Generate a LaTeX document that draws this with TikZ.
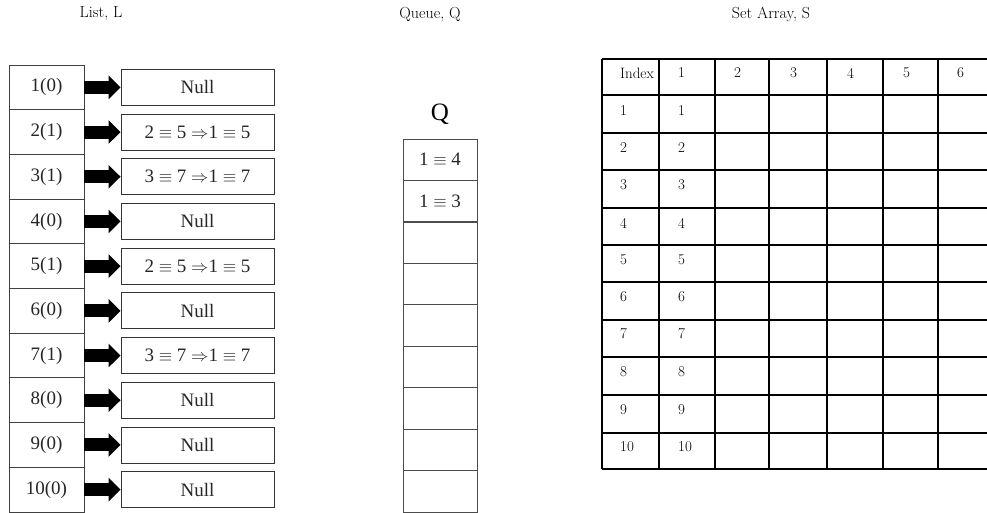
\documentclass[tikz,border=0pt]{standalone}
\usepackage{fontspec}
\newfontfamily\tms{Liberation Serif}
\usetikzlibrary{arrows.meta}
\tikzset{
  title/.style={font=\fontsize{16}{18}\selectfont},
  lcell/.style={draw=black!75, line width=0.9pt, minimum width=75pt, minimum height=44.7pt, inner sep=0pt, text=black!85, font=\tms\fontsize{19}{21}\selectfont},
  rbox/.style={draw=black!80, line width=0.9pt, minimum width=153pt, minimum height=36pt, inner sep=0pt, text=black!85, font=\tms\fontsize{19}{21}\selectfont},
  qcell/.style={draw=black!70, line width=0.8pt, minimum width=74pt, minimum height=41.4pt, inner sep=0pt, text=black!85, font=\tms\fontsize{19}{21}\selectfont},
  qlabel/.style={inner sep=0pt, font=\tms\fontsize{25}{27}\selectfont},
  bigarrow/.style={line width=13pt, -{Triangle[length=12pt,width=23pt]}},
  grid/.style={line width=1.8pt, black},
  ttext/.style={anchor=west, inner sep=0pt, font=\fontsize{15}{17}\selectfont},
}
\newcommand{\eqv}{\ensuremath{\equiv}}
\newcommand{\imp}{\ensuremath{\Rightarrow}}
\begin{document}
\begin{tikzpicture}[x=1pt,y=-1pt]
\useasboundingbox (0,0) rectangle (987,513);
% titles
\node[title] (tL) at (101,14) {List, L};
\node[title] (tQ) at (430,14) {Queue, Q};
\node[title] (tS) at (771,14) {Set Array, S};
% list
\foreach \i/\a/\b in {1/1(0)/Null, 2/2(1)/{2 \eqv{} 5 \imp1 \eqv{} 5}, 3/3(1)/{3 \eqv{} 7 \imp1 \eqv{} 7}, 4/4(0)/Null, 5/5(1)/{2 \eqv{} 5 \imp1 \eqv{} 5}, 6/6(0)/Null, 7/7(1)/{3 \eqv{} 7 \imp1 \eqv{} 7}, 8/8(0)/Null, 9/9(0)/Null, 10/10(0)/Null}{
  \node[lcell] (c\i) at (46.5, {65+44.7*(\i-0.5)}) {\a};
  \node[rbox] (n\i) at (197.5, {65+44.7*(\i-0.5)}) {\b};
  \draw[bigarrow] (c\i.east) -- (n\i.west);
}
% queue
\node[qlabel] (Q) at (440,114) {Q};
\foreach \i/\t in {1/{1 \eqv{} 4}, 2/{1 \eqv{} 3}, 3/{}, 4/{}, 5/{}, 6/{}, 7/{}, 8/{}, 9/{}}{
  \node[qcell] (q\i) at (440, {139+41.44*(\i-0.5)}) {\t};
}
% set array grid
\foreach \y in {59,95,133,170,208,245,282,320,357,395,433,469}{
  \draw[grid] (602,\y) -- (987,\y);
}
\foreach \x in {602,659,715,769,827,883,938}{
  \draw[grid] (\x,59) -- (\x,469);
}
% header
\foreach \x/\t [count=\k] in {620/Index,678/1,734/2,790/3,847/4,903/5,957/6}{
  \node[ttext] (h\k) at (\x,73) {\t};
}
\foreach \r/\y in {1/111,2/148,3/185,4/223,5/260,6/297,7/334,8/372,9/410,10/447}{
  \node[ttext] (a\r) at (620,\y) {\r};
  \node[ttext] (b\r) at (678,\y) {\r};
}
\end{tikzpicture}
\end{document}
